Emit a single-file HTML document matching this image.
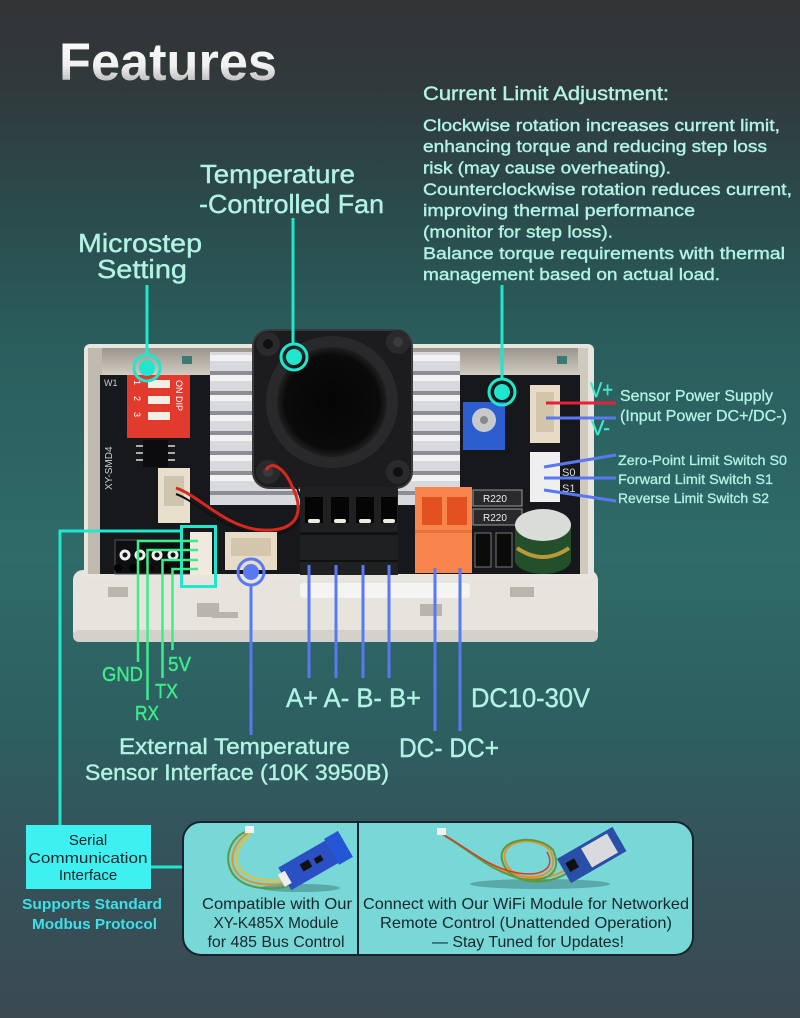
<!DOCTYPE html>
<html><head><meta charset="utf-8"><style>
html,body{margin:0;padding:0;background:#2e4a4c;}
svg{display:block;}
text{font-family:"Liberation Sans",sans-serif;}
</style></head><body>
<svg width="800" height="1018" viewBox="0 0 800 1018" xmlns="http://www.w3.org/2000/svg">
<defs>
<linearGradient id="bg" x1="0" y1="0" x2="0" y2="1">
<stop offset="0" stop-color="#323436"/>
<stop offset="0.08" stop-color="#30393b"/>
<stop offset="0.2" stop-color="#2b4a4b"/>
<stop offset="0.34" stop-color="#2a5e5d"/>
<stop offset="0.55" stop-color="#2f6b69"/>
<stop offset="0.72" stop-color="#2d5e60"/>
<stop offset="0.85" stop-color="#35525a"/>
<stop offset="1" stop-color="#3b4951"/>
</linearGradient>
<linearGradient id="title" x1="0" y1="0" x2="0" y2="1">
<stop offset="0" stop-color="#ffffff"/>
<stop offset="0.55" stop-color="#f0f0f0"/>
<stop offset="1" stop-color="#9c9c9c"/>
</linearGradient>
<linearGradient id="wall" x1="0" y1="0" x2="0" y2="1">
<stop offset="0" stop-color="#9a958d"/>
<stop offset="1" stop-color="#d8d2c7"/>
</linearGradient>
<radialGradient id="fanc" cx="0.5" cy="0.5" r="0.5">
<stop offset="0" stop-color="#050505"/>
<stop offset="0.85" stop-color="#0a0a0a"/>
<stop offset="1" stop-color="#202022"/>
</radialGradient>
</defs>
<rect width="800" height="1018" fill="url(#bg)"/>

<!-- Title -->
<text x="59" y="80" font-size="53" font-weight="bold" fill="url(#title)" textLength="218" lengthAdjust="spacingAndGlyphs">Features</text>

<!-- Top labels -->
<g fill="#b2f3e4" stroke="#b2f3e4" stroke-width="0.4">
<text x="200" y="183" font-size="26" textLength="155" lengthAdjust="spacingAndGlyphs">Temperature</text>
<text x="199" y="213" font-size="26" textLength="185" lengthAdjust="spacingAndGlyphs">-Controlled Fan</text>
<text x="78" y="252" font-size="26" textLength="124" lengthAdjust="spacingAndGlyphs">Microstep</text>
<text x="97" y="278" font-size="26" textLength="90" lengthAdjust="spacingAndGlyphs">Setting</text>
<text x="423" y="100" font-size="19" textLength="246" lengthAdjust="spacingAndGlyphs">Current Limit Adjustment:</text>
<g font-size="17">
<text x="423" y="131" textLength="357" lengthAdjust="spacingAndGlyphs">Clockwise rotation increases current limit,</text>
<text x="423" y="152" textLength="344" lengthAdjust="spacingAndGlyphs">enhancing torque and reducing step loss</text>
<text x="423" y="173.5" textLength="248" lengthAdjust="spacingAndGlyphs">risk (may cause overheating).</text>
<text x="423" y="195" textLength="369" lengthAdjust="spacingAndGlyphs">Counterclockwise rotation reduces current,</text>
<text x="423" y="216" textLength="272" lengthAdjust="spacingAndGlyphs">improving thermal performance</text>
<text x="423" y="237.5" textLength="190" lengthAdjust="spacingAndGlyphs">(monitor for step loss).</text>
<text x="423" y="259" textLength="362" lengthAdjust="spacingAndGlyphs">Balance torque requirements with thermal</text>
<text x="423" y="280" textLength="297" lengthAdjust="spacingAndGlyphs">management based on actual load.</text>
</g>
</g>

<!-- Device enclosure -->
<rect x="73" y="570" width="525" height="72" rx="10" fill="#e6e4dd"/>
<rect x="73" y="630" width="525" height="12" rx="6" fill="#d3d1ca"/>
<rect x="84" y="344" width="510" height="236" rx="6" fill="#e8e5de"/>
<rect x="88" y="348" width="500" height="30" fill="url(#wall)"/>
<rect x="88" y="348" width="14" height="226" fill="#bfb9ae"/>
<rect x="578" y="348" width="10" height="226" fill="#cfc9be"/>
<rect x="100" y="375" width="480" height="199" fill="#16181b"/>
<rect x="182" y="356" width="10" height="8" fill="#3a7a70"/>
<rect x="557" y="356" width="10" height="8" fill="#3a7a70"/>
<!-- bottom plate slots -->
<g fill="#b8b5ad">
<rect x="108" y="587" width="20" height="10"/>
<rect x="197" y="603" width="22" height="14"/>
<rect x="212" y="612" width="26" height="6"/>
<rect x="420" y="604" width="22" height="12"/>
<rect x="510" y="587" width="24" height="10"/>
</g>
<rect x="300" y="583" width="170" height="15" rx="3" fill="#f4f4f2"/>

<!-- heat sink -->
<g>
<rect x="210" y="352" width="250" height="153" fill="#d8d9dc"/>
<g fill="#8c8e93">
<rect x="210" y="371" width="250" height="4"/>
<rect x="210" y="391" width="250" height="4"/>
<rect x="210" y="411" width="250" height="4"/>
<rect x="210" y="431" width="250" height="4"/>
<rect x="210" y="451" width="250" height="4"/>
<rect x="210" y="471" width="250" height="4"/>
<rect x="210" y="491" width="250" height="4"/>
</g>
<g fill="#f2f2f4">
<rect x="210" y="355" width="250" height="6"/>
<rect x="210" y="375" width="250" height="6"/>
<rect x="210" y="395" width="250" height="6"/>
<rect x="210" y="415" width="250" height="6"/>
<rect x="210" y="435" width="250" height="6"/>
<rect x="210" y="455" width="250" height="6"/>
<rect x="210" y="475" width="250" height="6"/>
</g>
</g>

<!-- fan -->
<rect x="253" y="330" width="159" height="158" rx="16" fill="#1c1c1e" stroke="#3a3a3c" stroke-width="2"/>
<circle cx="268" cy="344" r="12" fill="#2a2a2c"/><circle cx="268" cy="344" r="5" fill="#101010"/>
<circle cx="398" cy="342" r="12" fill="#2a2a2c"/><circle cx="398" cy="342" r="5" fill="#3a3a3c"/>
<circle cx="268" cy="472" r="12" fill="#2a2a2c"/><circle cx="268" cy="472" r="5" fill="#3a3a3c"/>
<circle cx="398" cy="472" r="12" fill="#2a2a2c"/><circle cx="398" cy="472" r="5" fill="#101010"/>
<circle cx="332" cy="402" r="66" fill="#29292b"/>
<circle cx="332" cy="402" r="55" fill="url(#fanc)"/>

<!-- DIP switch -->
<rect x="127" y="375" width="63" height="63" fill="#e23a2c"/>
<rect x="148" y="380" width="22" height="8" fill="#f4efe6"/>
<rect x="148" y="396" width="22" height="8" fill="#f4efe6"/>
<rect x="148" y="412" width="22" height="8" fill="#f4efe6"/>
<g font-size="9" fill="#fff">
<text x="132" y="386" transform="rotate(90 136 384)">1</text>
<text x="132" y="402" transform="rotate(90 136 400)">2</text>
<text x="132" y="418" transform="rotate(90 136 416)">3</text>
</g>
<text x="176" y="380" font-size="9" fill="#fff" transform="rotate(90 176 380)">ON DIP</text>
<text x="104" y="386" font-size="9" fill="#ccc">W1</text>
<!-- IC -->
<rect x="143" y="440" width="25" height="27" fill="#0c0c0e"/>
<g fill="#aaa"><rect x="136" y="445" width="7" height="2"/><rect x="136" y="452" width="7" height="2"/><rect x="136" y="459" width="7" height="2"/><rect x="168" y="445" width="7" height="2"/><rect x="168" y="452" width="7" height="2"/><rect x="168" y="459" width="7" height="2"/></g>
<text x="112" y="490" font-size="10" fill="#cfcfcf" transform="rotate(-90 112 490)">XY-SMD4</text>

<!-- fan connector -->
<rect x="158" y="468" width="32" height="55" fill="#e8dfcc"/>
<rect x="164" y="476" width="20" height="30" fill="#cfc4ad"/>
<!-- wire -->
<path d="M176 488 C200 496, 226 528, 262 530 C296 532, 306 514, 292 486 C284 468, 272 460, 266 470" fill="none" stroke="#d8281e" stroke-width="3"/>
<path d="M176 494 C198 502, 224 532, 262 534 C298 536, 310 516, 296 486" fill="none" stroke="#111" stroke-width="2"/>

<!-- header pins area -->
<rect x="115" y="540" width="80" height="34" fill="#0e0f11" stroke="#555" stroke-width="1"/>
<g fill="none" stroke="#f0f0f0" stroke-width="3">
<circle cx="125" cy="555" r="4"/><circle cx="140" cy="555" r="4"/><circle cx="157" cy="555" r="4"/><circle cx="173" cy="555" r="4"/>
</g>
<g fill="#000"><circle cx="118" cy="568" r="4"/><circle cx="133" cy="568" r="4"/><circle cx="149" cy="568" r="4"/><circle cx="165" cy="568" r="4"/><circle cx="181" cy="568" r="4"/></g>
<!-- serial connector -->
<rect x="190" y="532" width="22" height="43" fill="#efe9df"/>
<!-- temp connector -->
<rect x="225" y="532" width="52" height="38" fill="#e6dcc8"/>
<rect x="231" y="538" width="40" height="18" fill="#d3c6ad"/>

<!-- black terminal block -->
<rect x="300" y="487" width="98" height="88" fill="#1f2022"/>
<g fill="#050505">
<rect x="305" y="497" width="18" height="26"/><rect x="331" y="497" width="18" height="26"/><rect x="356" y="497" width="18" height="26"/><rect x="381" y="497" width="16" height="26"/>
</g>
<g fill="#f0ebe0"><rect x="308" y="519" width="12" height="4" rx="2"/><rect x="334" y="519" width="12" height="4" rx="2"/><rect x="359" y="519" width="12" height="4" rx="2"/><rect x="383" y="519" width="12" height="4" rx="2"/></g>
<rect x="300" y="532" width="98" height="3" fill="#111"/>
<rect x="300" y="560" width="98" height="2" fill="#111"/>

<!-- orange terminal -->
<rect x="415" y="487" width="57" height="86" fill="#f7854c"/>
<rect x="422" y="497" width="20" height="28" fill="#e2511f"/>
<rect x="447" y="497" width="20" height="28" fill="#e2511f"/>
<rect x="415" y="530" width="57" height="3" fill="#e57238"/>
<!-- resistors -->
<rect x="473" y="490" width="49" height="16" fill="#2a2a2c" stroke="#9a9a9a" stroke-width="1"/>
<rect x="473" y="509" width="49" height="16" fill="#2a2a2c" stroke="#9a9a9a" stroke-width="1"/>
<text x="483" y="502" font-size="10" fill="#eee">R220</text>
<text x="483" y="521" font-size="10" fill="#eee">R220</text>
<!-- diodes -->
<rect x="475" y="533" width="16" height="34" fill="#0b0b0c" stroke="#777" stroke-width="1"/>
<rect x="496" y="533" width="16" height="34" fill="#0b0b0c" stroke="#777" stroke-width="1"/>
<!-- capacitor -->
<path d="M515 525 L515 560 A28 14 0 0 0 571 560 L571 525 Z" fill="#234f2b"/>
<ellipse cx="543" cy="525" rx="28" ry="16" fill="#d9dcd8"/>
<path d="M517 548 Q543 566 569 548" fill="none" stroke="#b89a3a" stroke-width="4"/>
<!-- pot -->
<rect x="463" y="402" width="42" height="48" fill="#2c5ed0"/>
<circle cx="484" cy="420" r="12" fill="#c7c9cc"/>
<circle cx="484" cy="420" r="4" fill="#888"/>
<!-- power & limit connectors -->
<rect x="530" y="385" width="30" height="58" fill="#e5dbc6"/>
<rect x="536" y="392" width="18" height="40" fill="#d2c5aa"/>
<rect x="530" y="452" width="30" height="50" fill="#efefef"/>
<text x="562" y="476" font-size="11" fill="#ddd">S0</text>
<text x="562" y="492" font-size="11" fill="#ddd">S1</text>

<!-- Annotation lines -->
<g stroke="#1fe6cc" stroke-width="3" fill="none">
<line x1="147" y1="285" x2="147" y2="355"/>
<line x1="293" y1="218" x2="293" y2="344"/>
<line x1="502" y1="285" x2="502" y2="379"/>
<path d="M60 825 V531 H181"/>
<rect x="181.5" y="526.5" width="34" height="60"/>
<line x1="151" y1="867" x2="183" y2="867"/>
</g>
<g fill="#1fe6cc">
<circle cx="147" cy="368" r="8"/>
<circle cx="294" cy="357" r="8"/>
<circle cx="502" cy="392" r="8"/>
</g>
<g fill="none" stroke="#1fe6cc" stroke-width="3">
<circle cx="147" cy="368" r="13"/>
<circle cx="294" cy="357" r="13"/>
<circle cx="502" cy="392" r="13"/>
</g>

<!-- green serial lines -->
<g stroke="#3ded8a" stroke-width="2.5" fill="none">
<path d="M198 541 H138 V662"/>
<path d="M198 550 H147.5 V700"/>
<path d="M198 560 H162.5 V678"/>
<path d="M198 569 H172.5 V650"/>
</g>
<g fill="#3ded8a" stroke="#3ded8a" stroke-width="0.4" font-size="20">
<text x="168" y="671" textLength="23" lengthAdjust="spacingAndGlyphs">5V</text>
<text x="102" y="681" textLength="41" lengthAdjust="spacingAndGlyphs">GND</text>
<text x="155" y="698" textLength="23" lengthAdjust="spacingAndGlyphs">TX</text>
<text x="135" y="720" textLength="24" lengthAdjust="spacingAndGlyphs">RX</text>
</g>

<!-- blue lines -->
<g stroke="#5a78f0" stroke-width="3" fill="none">
<line x1="251" y1="585" x2="251" y2="735"/>
<line x1="309" y1="565" x2="309" y2="678"/>
<line x1="336" y1="565" x2="336" y2="678"/>
<line x1="363" y1="565" x2="363" y2="678"/>
<line x1="389" y1="565" x2="389" y2="678"/>
<line x1="435" y1="568" x2="435" y2="731"/>
<line x1="460" y1="568" x2="460" y2="731"/>
<line x1="546" y1="418" x2="616" y2="418"/>
<line x1="544" y1="467" x2="616" y2="455"/>
<line x1="544" y1="478" x2="616" y2="478"/>
<line x1="544" y1="490" x2="616" y2="501"/>
</g>
<line x1="546" y1="403" x2="616" y2="403" stroke="#e8203a" stroke-width="3"/>
<circle cx="251" cy="572" r="8" fill="#5a78f0"/>
<circle cx="251" cy="572" r="13" fill="none" stroke="#5a78f0" stroke-width="3"/>

<!-- right labels -->
<g fill="#3de6c8" stroke="#3de6c8" stroke-width="0.4" font-size="21">
<text x="590" y="397" textLength="23" lengthAdjust="spacingAndGlyphs">V+</text>
<text x="591" y="435" textLength="19" lengthAdjust="spacingAndGlyphs">V-</text>
</g>
<g fill="#b2f3e4" stroke="#b2f3e4" stroke-width="0.3">
<text x="620" y="401" font-size="16" textLength="153" lengthAdjust="spacingAndGlyphs">Sensor Power Supply</text>
<text x="620" y="421" font-size="16" textLength="167" lengthAdjust="spacingAndGlyphs">(Input Power DC+/DC-)</text>
<text x="618" y="465" font-size="14" textLength="169" lengthAdjust="spacingAndGlyphs">Zero-Point Limit Switch S0</text>
<text x="618" y="484" font-size="14" textLength="155" lengthAdjust="spacingAndGlyphs">Forward Limit Switch S1</text>
<text x="618" y="503" font-size="14" textLength="151" lengthAdjust="spacingAndGlyphs">Reverse Limit Switch S2</text>
</g>

<!-- bottom labels -->
<g fill="#b2f3e4" stroke="#b2f3e4" stroke-width="0.4">
<text x="286" y="707" font-size="27" textLength="135" lengthAdjust="spacingAndGlyphs">A+ A- B- B+</text>
<text x="471" y="707" font-size="27" textLength="119" lengthAdjust="spacingAndGlyphs">DC10-30V</text>
<text x="399" y="757" font-size="27" textLength="100" lengthAdjust="spacingAndGlyphs">DC- DC+</text>
<text x="119" y="754" font-size="22" textLength="231" lengthAdjust="spacingAndGlyphs">External Temperature</text>
<text x="85" y="780" font-size="22" textLength="304" lengthAdjust="spacingAndGlyphs">Sensor Interface (10K 3950B)</text>
</g>

<!-- Serial box -->
<rect x="26" y="825" width="125" height="64" fill="#3ef0f0"/>
<g fill="#16262c" font-size="15" text-anchor="middle">
<text x="88" y="845">Serial</text>
<text x="88" y="863" textLength="119" lengthAdjust="spacingAndGlyphs">Communication</text>
<text x="88" y="880">Interface</text>
</g>
<g fill="#3ee0e8" font-size="15" font-weight="bold">
<text x="22" y="909" textLength="140" lengthAdjust="spacingAndGlyphs">Supports Standard</text>
<text x="32" y="929" textLength="125" lengthAdjust="spacingAndGlyphs">Modbus Protocol</text>
</g>

<!-- Panel -->
<rect x="183" y="822" width="510" height="133" rx="18" fill="#78d7d7" stroke="#16242a" stroke-width="2"/>
<line x1="358" y1="823" x2="358" y2="954" stroke="#16242a" stroke-width="2"/>

<!-- module 1 -->
<ellipse cx="300" cy="888" rx="40" ry="4" fill="#5aa8a8"/>
<path d="M248 833 C228 845, 222 880, 262 884 C285 886, 292 880, 290 876" fill="none" stroke="#e8902a" stroke-width="2"/>
<path d="M251 834 C232 848, 228 876, 264 880 C284 882, 290 876, 288 872" fill="none" stroke="#e8c030" stroke-width="2"/>
<path d="M245 832 C222 842, 218 884, 262 888 C286 890, 294 884, 292 880" fill="none" stroke="#5a9a40" stroke-width="2"/>
<rect x="245" y="826" width="9" height="7" fill="#f2f2f2"/>
<g transform="rotate(-30 312 862)">
<rect x="280" y="850" width="66" height="26" fill="#2b50c4"/>
<rect x="334" y="848" width="16" height="30" fill="#2456d6"/>
<rect x="300" y="858" width="10" height="8" fill="#111"/>
<rect x="315" y="860" width="8" height="6" fill="#111"/>
<rect x="276" y="856" width="8" height="14" fill="#eee"/>
</g>

<!-- module 2 -->
<ellipse cx="540" cy="884" rx="70" ry="5" fill="#5aa8a8"/>
<path d="M442 834 C470 850, 490 870, 520 876 C545 880, 560 870, 550 850 C535 835, 500 840, 505 860 C510 880, 540 884, 566 870" fill="none" stroke="#e8902a" stroke-width="2"/>
<path d="M445 836 C472 852, 492 872, 522 879 C548 883, 563 872, 553 850 C538 833, 497 838, 502 860 C507 882, 540 888, 566 874" fill="none" stroke="#5a9a40" stroke-width="2"/>
<path d="M439 832 C468 848, 488 868, 518 873 C542 877, 556 868, 547 852" fill="none" stroke="#d83a2a" stroke-width="1.5"/>
<rect x="437" y="828" width="9" height="7" fill="#f2f2f2"/>
<g transform="rotate(-30 590 856)">
<rect x="560" y="842" width="64" height="28" fill="#2a4fa8"/>
<rect x="586" y="845" width="30" height="22" fill="#d9dade"/>
<rect x="565" y="850" width="10" height="10" fill="#111"/>
</g>

<g fill="#16262c" font-size="16" text-anchor="middle">
<text x="277" y="909" textLength="150" lengthAdjust="spacingAndGlyphs">Compatible with Our</text>
<text x="276" y="928" textLength="125" lengthAdjust="spacingAndGlyphs">XY-K485X Module</text>
<text x="276" y="947" textLength="137" lengthAdjust="spacingAndGlyphs">for 485 Bus Control</text>
<text x="526" y="909" textLength="326" lengthAdjust="spacingAndGlyphs">Connect with Our WiFi Module for Networked</text>
<text x="526" y="928" textLength="292" lengthAdjust="spacingAndGlyphs">Remote Control (Unattended Operation)</text>
<text x="528" y="947" textLength="192" lengthAdjust="spacingAndGlyphs">— Stay Tuned for Updates!</text>
</g>
</svg>
</body></html>
